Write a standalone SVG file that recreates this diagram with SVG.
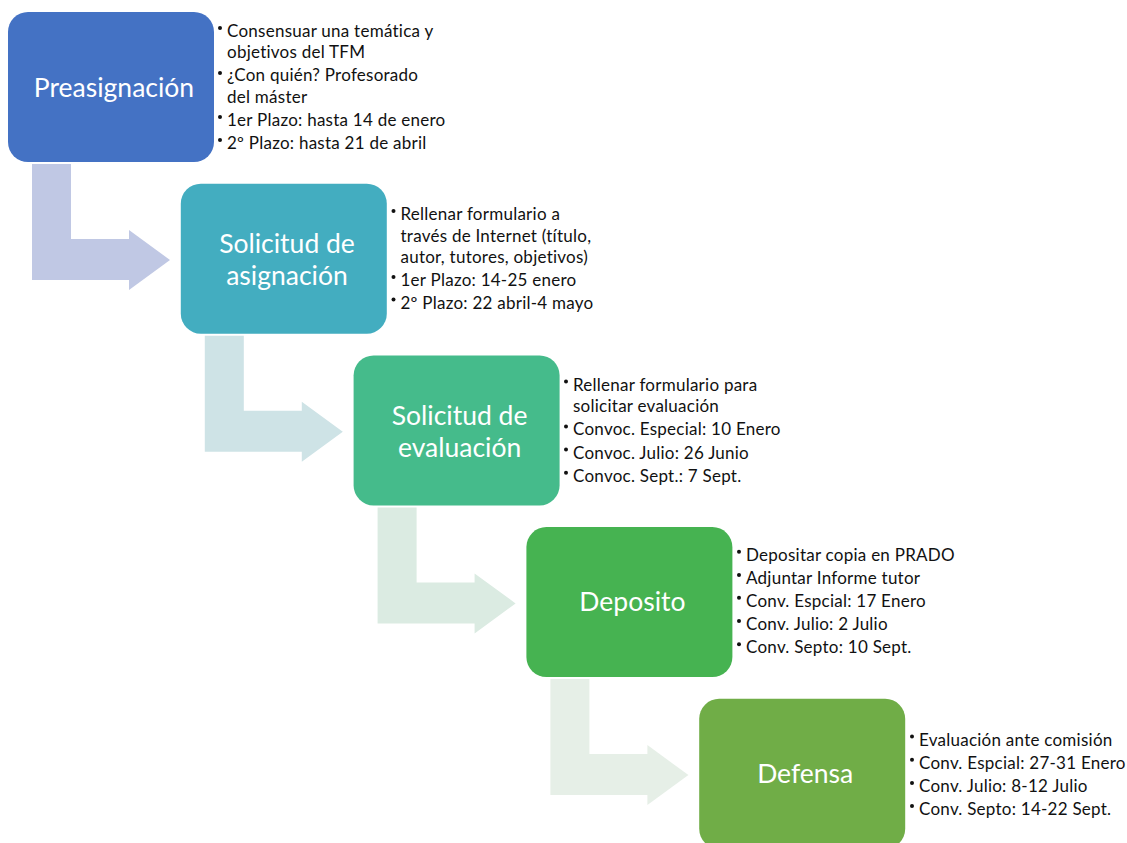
<svg xmlns="http://www.w3.org/2000/svg" width="1127" height="843" viewBox="0 0 1127 843">
<defs>
<style>
.box{stroke:none}
.title{font-family:Lato,"Liberation Sans",sans-serif;font-size:26.5px;fill:#ffffff;text-anchor:middle}
.item{font-family:Lato,"Liberation Sans",sans-serif;font-size:17px;letter-spacing:0.25px;fill:#111111}
.dot{fill:#111111}
</style>
<path id="bent" d="M32,164 H71 V239 H129 V230 L170,260 L129,290 V280 H32 Z"/>
</defs>
<rect width="1127" height="843" fill="#ffffff"/>
<g id="connectors">
<use href="#bent" fill="#C0C8E4"/>
<use href="#bent" fill="#CEE3E6" transform="translate(172.8,171.7)"/>
<use href="#bent" fill="#DBEBE2" transform="translate(345.6,343.4)"/>
<use href="#bent" fill="#E6EFE7" transform="translate(518.4,515.1)"/>
</g>
<g id="preasignacion">
<rect class="box" x="8" y="12" width="206" height="150" rx="20" fill="#4472C4"/>
<text class="title" x="114" y="97">Preasignación</text>
<circle class="dot" cx="220" cy="28" r="2"/>
<text class="item" x="227" y="36.5">Consensuar una temática y</text>
<text class="item" x="227" y="58.2">objetivos del TFM</text>
<circle class="dot" cx="220" cy="73" r="2"/>
<text class="item" x="227" y="81.4">¿Con quién? Profesorado</text>
<text class="item" x="227" y="103">del máster</text>
<circle class="dot" cx="220" cy="117" r="2"/>
<text class="item" x="227" y="125.8">1er Plazo: hasta 14 de enero</text>
<circle class="dot" cx="220" cy="140" r="2"/>
<text class="item" x="227" y="148.5">2º Plazo: hasta 21 de abril</text>
</g>
<g id="solicitud-asignacion">
<rect class="box" x="180.8" y="183.7" width="206" height="150" rx="20" fill="#43ADC0"/>
<text class="title" x="287" y="253">Solicitud de</text>
<text class="title" x="287" y="285">asignación</text>
<circle class="dot" cx="393.5" cy="211" r="2"/>
<text class="item" x="400.5" y="220">Rellenar formulario a</text>
<text class="item" x="400.5" y="241.7">través de Internet (título,</text>
<text class="item" x="400.5" y="263.4">autor, tutores, objetivos)</text>
<circle class="dot" cx="393.5" cy="277" r="2"/>
<text class="item" x="400.5" y="286">1er Plazo: 14-25 enero</text>
<circle class="dot" cx="393.5" cy="299.5" r="2"/>
<text class="item" x="400.5" y="308.5">2º Plazo: 22 abril-4 mayo</text>
</g>
<g id="solicitud-evaluacion">
<rect class="box" x="353.6" y="355.4" width="206" height="150" rx="20" fill="#45BB8B"/>
<text class="title" x="459.6" y="425">Solicitud de</text>
<text class="title" x="459.6" y="457">evaluación</text>
<circle class="dot" cx="566" cy="381.5" r="2"/>
<text class="item" x="573" y="390.5">Rellenar formulario para</text>
<text class="item" x="573" y="412.2">solicitar evaluación</text>
<circle class="dot" cx="566" cy="426.4" r="2"/>
<text class="item" x="573" y="435.4">Convoc. Especial: 10 Enero</text>
<circle class="dot" cx="566" cy="449.6" r="2"/>
<text class="item" x="573" y="458.6">Convoc. Julio: 26 Junio</text>
<circle class="dot" cx="566" cy="472.8" r="2"/>
<text class="item" x="573" y="481.8">Convoc. Sept.: 7 Sept.</text>
</g>
<g id="deposito">
<rect class="box" x="526.4" y="527.1" width="206" height="150" rx="20" fill="#46B351"/>
<text class="title" x="632.4" y="611">Deposito</text>
<circle class="dot" cx="739" cy="551.7" r="2"/>
<text class="item" x="746" y="560.7">Depositar copia en PRADO</text>
<circle class="dot" cx="739" cy="575" r="2"/>
<text class="item" x="746" y="584">Adjuntar Informe tutor</text>
<circle class="dot" cx="739" cy="597.7" r="2"/>
<text class="item" x="746" y="606.7">Conv. Espcial: 17 Enero</text>
<circle class="dot" cx="739" cy="621" r="2"/>
<text class="item" x="746" y="630">Conv. Julio: 2 Julio</text>
<circle class="dot" cx="739" cy="644.3" r="2"/>
<text class="item" x="746" y="653.3">Conv. Septo: 10 Sept.</text>
</g>
<g id="defensa">
<rect class="box" x="699.2" y="698.8" width="206" height="150" rx="20" fill="#70AD47"/>
<text class="title" x="805.2" y="782.5">Defensa</text>
<circle class="dot" cx="912" cy="736.5" r="2"/>
<text class="item" x="919" y="745.5">Evaluación ante comisión</text>
<circle class="dot" cx="912" cy="759.7" r="2"/>
<text class="item" x="919" y="768.7">Conv. Espcial: 27-31 Enero</text>
<circle class="dot" cx="912" cy="782.9" r="2"/>
<text class="item" x="919" y="791.9">Conv. Julio: 8-12 Julio</text>
<circle class="dot" cx="912" cy="806.1" r="2"/>
<text class="item" x="919" y="815.1">Conv. Septo: 14-22 Sept.</text>
</g>
</svg>
